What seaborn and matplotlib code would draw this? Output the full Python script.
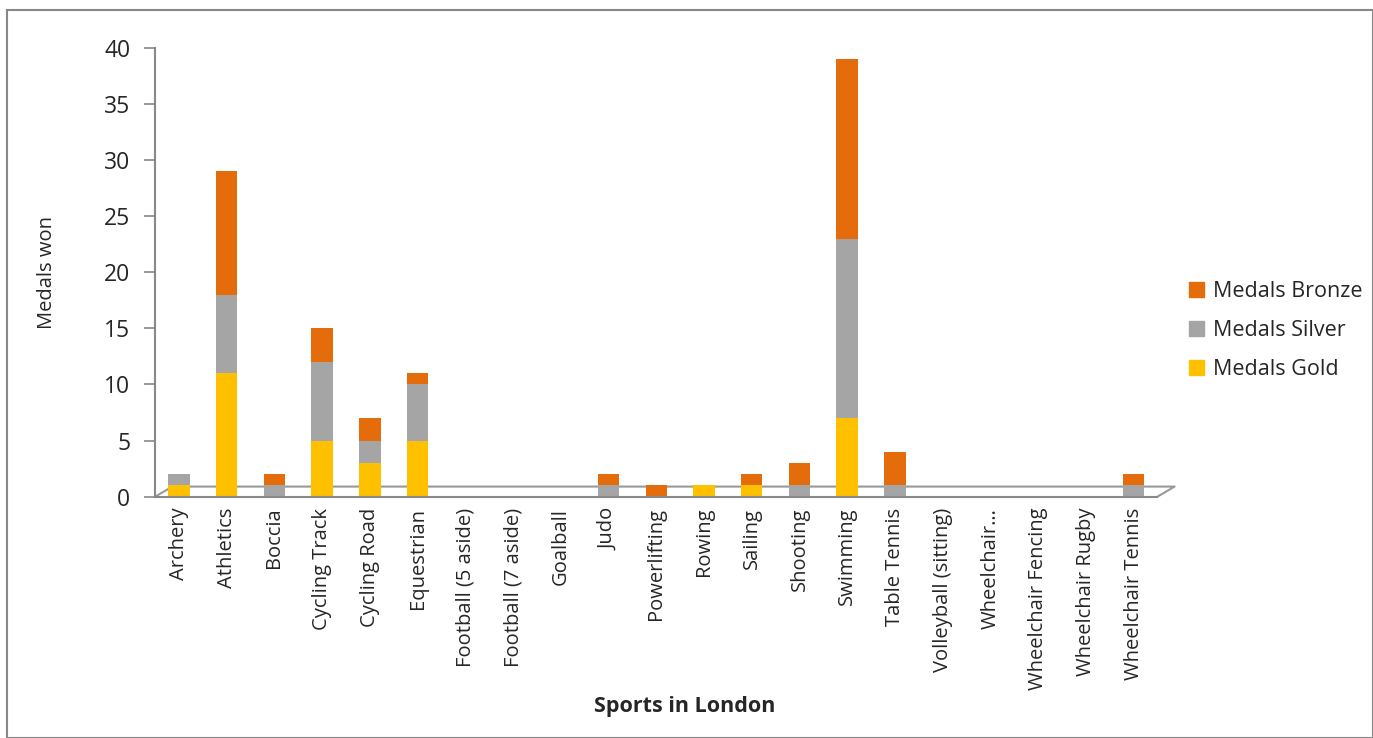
import numpy as np
import pandas as pd
import seaborn as sns
import matplotlib.pyplot as plt
from matplotlib.patches import Rectangle, Patch

sports = ['Archery', 'Athletics', 'Boccia', 'Cycling Track', 'Cycling Road',
          'Equestrian', 'Football (5 aside)', 'Football (7 aside)', 'Goalball',
          'Judo', 'Powerlifting', 'Rowing', 'Sailing', 'Shooting', 'Swimming',
          'Table Tennis', 'Volleyball (sitting)', 'Wheelchair…',
          'Wheelchair Fencing', 'Wheelchair Rugby', 'Wheelchair Tennis']
gold = [1, 11, 0, 5, 3, 5, 0, 0, 0, 0, 0, 1, 1, 0, 7, 0, 0, 0, 0, 0, 0]
silver = [1, 7, 1, 7, 2, 5, 0, 0, 0, 1, 0, 0, 0, 1, 16, 1, 0, 0, 0, 0, 1]
bronze = [0, 11, 1, 3, 2, 1, 0, 0, 0, 1, 1, 0, 1, 2, 16, 3, 0, 0, 0, 0, 1]

c_gold, c_silver, c_bronze = '#FFC000', '#A5A5A5', '#E46C0A'

sns.set_style('white')
plt.rcParams['font.family'] = ['Open Sans', 'DejaVu Sans']

df = pd.DataFrame({'sport': sports, 'gold': gold, 'silver': silver, 'bronze': bronze})
df['gs'] = df['gold'] + df['silver']

fig = plt.figure(figsize=(13.73, 7.38), dpi=100)
ax = fig.add_axes([0.113, 0.327, 0.73, 0.608])

# stacked cylinders drawn as flat bars
sns.barplot(data=df, x='sport', y='gold', color=c_gold, width=0.45,
            saturation=1, linewidth=0, ax=ax)
sns.barplot(data=df, x='sport', y='silver', bottom=df['gold'], color=c_silver,
            width=0.45, saturation=1, linewidth=0, ax=ax)
sns.barplot(data=df, x='sport', y='bronze', bottom=df['gs'], color=c_bronze,
            width=0.45, saturation=1, linewidth=0, ax=ax)

n = len(sports)
ax.set_ylim(0, 40)
ax.set_xlim(-0.5, n - 0.5)

# 3D floor outline
ax.plot([-0.5, -0.14, n - 0.14, n - 0.5], [0, 0.9, 0.9, 0], color='#999999',
        lw=1.5, clip_on=False, zorder=0)

ax.set_yticks(range(0, 41, 5))
ax.set_xticks(np.arange(n))
ax.set_xticklabels(sports, rotation=90, fontsize=14.5)
ax.set_xticks(np.arange(-0.5, n, 1), minor=True)
ax.tick_params(axis='x', which='major', length=0, pad=8)
ax.tick_params(axis='x', which='minor', length=9, color='#888888', width=1.2, direction='out')
ax.tick_params(axis='y', length=8, color='#888888', width=1.2, direction='out',
               labelsize=16.5, pad=10, left=True)

for s in ['top', 'right']:
    ax.spines[s].set_visible(False)
for s in ['left', 'bottom']:
    ax.spines[s].set_color('#888888')
    ax.spines[s].set_linewidth(1.5)

ax.set_ylabel('Medals won', fontsize=14.5, labelpad=34)
ax.set_xlabel('Sports in London', fontsize=15.5, fontweight='bold')
ax.xaxis.set_label_coords(0.528, -0.445)

handles = [Patch(color=c_bronze, label='Medals Bronze'),
           Patch(color=c_silver, label='Medals Silver'),
           Patch(color=c_gold, label='Medals Gold')]
ax.legend(handles=handles, loc='center left', bbox_to_anchor=(1.023, 0.37),
          frameon=False, fontsize=15.5, handlelength=0.7, handleheight=0.7,
          labelspacing=0.85, handletextpad=0.4, borderaxespad=0)

fig.patches.append(Rectangle((0.005, 0.0), 0.995, 0.987, transform=fig.transFigure,
                             fill=False, edgecolor='#888888', linewidth=1.5))

fig.savefig('out.png', dpi=100)
